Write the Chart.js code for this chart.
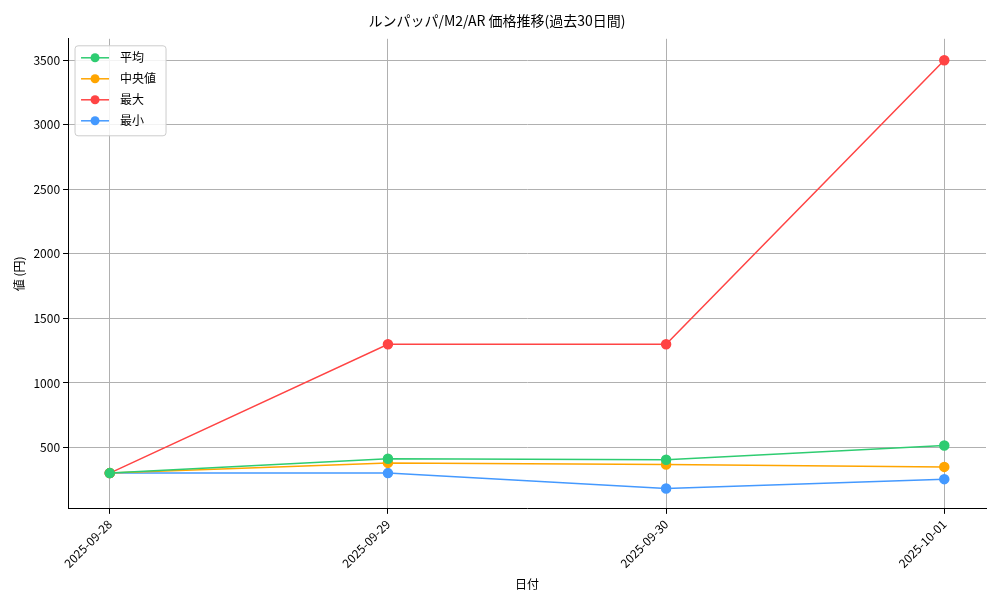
<!DOCTYPE html>
<html><head><meta charset="utf-8">
<script src="https://cdn.jsdelivr.net/npm/chart.js@4"></script>
<style>body{margin:0;background:#fff}</style>
</head><body><canvas id="c" width="1000" height="600"></canvas>
<script>
const dates = ['2025-09-28', '2025-09-29', '2025-09-30', '2025-10-01'];
const avgValues = [302, 413, 405, 516];
const medianValues = [302, 381, 368, 350];
const maxValues = [302, 1300, 1300, 3500];
const minValues = [302, 302, 183, 255];
const yTicks = [500, 1000, 1500, 2000, 2500, 3000, 3500];
const FONT = '"Noto Sans CJK JP", sans-serif';

function series(label, values, color) {
    return {
        label: label,
        data: values.map((v, i) => ({x: i, y: v})),
        borderColor: color, backgroundColor: color,
        borderWidth: 1.5, pointRadius: 4.5, pointHoverRadius: 4.5, tension: 0
    };
}

// legend box drawn inside the plot, top-left
const innerLegend = {
    id: 'innerLegend',
    afterDraw(chart) {
        const ctx = chart.ctx, a = chart.chartArea;
        const x0 = a.left + 7, y0 = a.top + 7, w = 91, rowH = 21;
        const ds = chart.data.datasets;
        ctx.save();
        ctx.fillStyle = 'rgba(255,255,255,0.85)';
        ctx.strokeStyle = '#ccc';
        ctx.lineWidth = 1;
        ctx.beginPath();
        ctx.roundRect(x0, y0, w, ds.length * rowH + 6, 3);
        ctx.fill(); ctx.stroke();
        ctx.font = '12px ' + FONT;
        ctx.textBaseline = 'middle';
        ds.forEach((d, i) => {
            const cy = y0 + 12 + i * rowH;
            ctx.strokeStyle = d.borderColor; ctx.fillStyle = d.borderColor;
            ctx.lineWidth = 1.5;
            ctx.beginPath(); ctx.moveTo(x0 + 6, cy); ctx.lineTo(x0 + 34, cy); ctx.stroke();
            ctx.beginPath(); ctx.arc(x0 + 20, cy, 4.5, 0, Math.PI * 2); ctx.fill();
            ctx.fillStyle = '#000';
            ctx.fillText(d.label, x0 + 45, cy);
        });
        ctx.restore();
    }
};

new Chart(document.getElementById('c'), {
    type: 'line',
    data: {
        datasets: [
            series('平均', avgValues, '#2ecc71'),
            series('中央値', medianValues, '#ffa500'),
            series('最大', maxValues, '#ff4444'),
            series('最小', minValues, '#4499ff')
        ]
    },
    options: {
        responsive: false, animation: false,
        layout: {padding: {left: 8, right: 14, top: 4, bottom: 4}},
        scales: {
            x: {
                type: 'linear', min: -0.15, max: 3.15,
                afterBuildTicks: axis => { axis.ticks = dates.map((d, i) => ({value: i})); },
                ticks: {
                    callback: v => dates[v], color: '#000', maxRotation: 45, minRotation: 45,
                    font: {family: FONT, size: 12}
                },
                grid: {color: '#b0b0b0', drawTicks: true, tickLength: 5, tickColor: '#000'},
                border: {color: '#000'},
                title: {display: true, text: '日付', color: '#000', font: {family: FONT, size: 12}}
            },
            y: {
                min: 25, max: 3666,
                afterBuildTicks: axis => { axis.ticks = yTicks.map(v => ({value: v})); },
                ticks: {color: '#000', font: {family: FONT, size: 12}, callback: v => String(v)},
                grid: {color: '#b0b0b0', tickLength: 5, tickColor: '#000'},
                border: {color: '#000'},
                title: {display: true, text: '値 (円)', color: '#000', font: {family: FONT, size: 12}}
            }
        },
        plugins: {
            legend: {display: false},
            tooltip: {enabled: false},
            title: {
                display: true, text: 'ルンパッパ/M2/AR 価格推移(過去30日間)', color: '#000',
                font: {family: FONT, size: 14, weight: 'normal'}, padding: {top: 8, bottom: 10}
            }
        }
    },
    plugins: [innerLegend]
});
</script>
</body></html>
